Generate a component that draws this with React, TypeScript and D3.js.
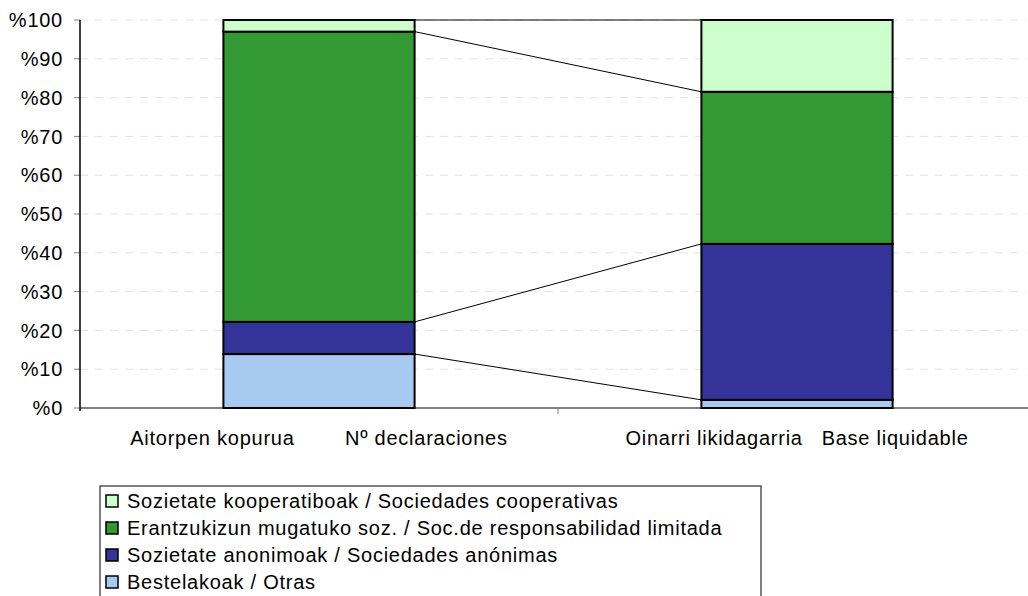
import React from "react";
import * as d3 from "d3";

// categories (x axis) and stacked series, in percent
const CATEGORIES = ["Aitorpen kopurua        Nº declaraciones", "Oinarri likidagarria   Base liquidable"];
const SERIES_NAMES = [
  "Bestelakoak / Otras",
  "Sozietate anonimoak / Sociedades anónimas",
  "Erantzukizun mugatuko soz. / Soc.de responsabilidad limitada",
  "Sozietate kooperatiboak / Sociedades cooperativas",
];
const BESTELAKOAK = [13.9, 2.1];
const ANONIMOAK = [8.3, 40.2];
const MUGATUKO = [74.8, 39.2];
const KOOPERATIBOAK = [3.0, 18.5];
const Y_TICKS = [0, 10, 20, 30, 40, 50, 60, 70, 80, 90, 100];

const COLORS = ["#a6caf0", "#333399", "#339933", "#ccffcc"];

const W = 1028;
const H = 596;
const FONT = "'Liberation Sans', Arial, sans-serif";
const LS = 0.75;

export default function App() {
  const margin = { left: 80, right: -8, top: 20, bottom: 188 };
  const x = d3
    .scaleBand<string>()
    .domain(CATEGORIES)
    .range([margin.left, W - margin.right])
    .paddingInner(0.6)
    .paddingOuter(0.3);
  const xOuter = d3.scaleBand<string>().domain(CATEGORIES).range([margin.left, W - margin.right]);
  const y = d3.scaleLinear().domain([0, 100]).range([H - margin.bottom, margin.top]);

  const rows = CATEGORIES.map((c, i) => ({
    cat: c,
    s0: BESTELAKOAK[i],
    s1: ANONIMOAK[i],
    s2: MUGATUKO[i],
    s3: KOOPERATIBOAK[i],
  }));
  const stack = d3.stack<any>().keys(["s0", "s1", "s2", "s3"]);
  const layers = stack(rows);

  const bw = x.bandwidth();
  const x0 = y(0);

  // legend listed top-down in reverse stack order
  const legendOrder = [3, 2, 1, 0];

  return (
    <svg
      width={W}
      height={H}
      style={{ position: "absolute", left: 0, top: 0, background: "#fff" }}
      fontFamily={FONT}
    >
      {/* gridlines */}
      {Y_TICKS.filter((t) => t > 0).map((t) => (
        <line
          key={"g" + t}
          x1={margin.left}
          x2={1026}
          y1={y(t)}
          y2={y(t)}
          stroke="#e3e3e3"
          strokeWidth={1}
          strokeDasharray="8,7"
        />
      ))}

      {/* y ticks and labels */}
      {Y_TICKS.map((t) => (
        <g key={"t" + t}>
          <line x1={margin.left - 6} x2={margin.left} y1={y(t)} y2={y(t)} stroke="#808080" strokeWidth={1} />
          <text x={63} y={y(t)} dy="0.36em" textAnchor="end" fontSize={20} letterSpacing={LS} fill="#000">
            {"%" + t}
          </text>
        </g>
      ))}

      {/* x axis */}
      <line x1={margin.left} x2={W} y1={x0} y2={x0} stroke="#808080" strokeWidth={2} />
      {CATEGORIES.map((c, i) =>
        i > 0 ? (
          <line
            key={"xt" + i}
            x1={xOuter(c)!}
            x2={xOuter(c)!}
            y1={x0}
            y2={x0 + 6}
            stroke="#808080"
            strokeWidth={1}
          />
        ) : null
      )}
      {CATEGORIES.map((c) => (
        <text
          key={"xl" + c}
          x={x(c)! + bw / 2}
          y={445}
          textAnchor="middle"
          fontSize={20}
          letterSpacing={LS}
          fill="#000"
          style={{ whiteSpace: "pre" }}
        >
          {c}
        </text>
      ))}

      {/* y axis */}
      <line x1={margin.left} x2={margin.left} y1={margin.top} y2={x0 + 3} stroke="#000" strokeWidth={1.5} />

      {/* series lines between bars */}
      {layers.map((layer, li) => (
        <line
          key={"sl" + li}
          x1={x(CATEGORIES[0])! + bw}
          x2={x(CATEGORIES[1])!}
          y1={y(layer[0][1])}
          y2={y(layer[1][1])}
          stroke="#000"
          strokeWidth={1}
        />
      ))}

      {/* bars */}
      {layers.map((layer, li) =>
        layer.map((d, i) => (
          <rect
            key={"b" + li + "-" + i}
            x={x(CATEGORIES[i])!}
            y={y(d[1])}
            width={bw}
            height={y(d[0]) - y(d[1])}
            fill={COLORS[li]}
            stroke="#000"
            strokeWidth={2}
          />
        ))
      )}

      {/* legend */}
      <rect x={100} y={486} width={661} height={120} fill="#fff" stroke="#000" strokeWidth={1} />
      {legendOrder.map((si, k) => {
        const cy = 501 + k * 27;
        return (
          <g key={"lg" + si}>
            <rect x={106} y={cy - 6} width={12} height={12} fill={COLORS[si]} stroke="#000" strokeWidth={1.5} />
            <text x={127} y={cy} dy="0.36em" fontSize={20} letterSpacing={LS} fill="#000">
              {SERIES_NAMES[si]}
            </text>
          </g>
        );
      })}
    </svg>
  );
}
